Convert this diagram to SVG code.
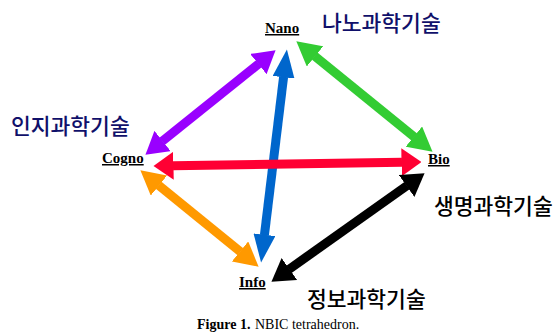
<svg xmlns="http://www.w3.org/2000/svg" width="554" height="334" viewBox="0 0 554 334">
  <style>
    .node { font-family: "Liberation Serif", "Times New Roman", serif; font-size: 15px; font-weight: bold; fill: #000; text-decoration: underline; }
    .kr { font-family: "Noto Sans CJK KR", "Noto Sans", sans-serif; font-size: 21.5px; font-weight: 500; }
    .navy { fill: #10106a; }
    .blk { fill: #000; }
    .cap { font-family: "Liberation Serif", "Times New Roman", serif; font-size: 14px; fill: #000; }
    .shaft { fill: none; stroke-width: 9; stroke-linecap: butt; }
  </style>
  <defs>
    <marker id="hPurple" markerUnits="userSpaceOnUse" viewBox="0 0 22 26" markerWidth="22" markerHeight="26" refX="0.5" refY="13" orient="auto-start-reverse"><path d="M0,0 L22,13 L0,26 z" fill="#9900ff"/></marker>
    <marker id="hBlue" markerUnits="userSpaceOnUse" viewBox="0 0 28 22" markerWidth="28" markerHeight="22" refX="0.5" refY="11" orient="auto-start-reverse"><path d="M0,0 L28,11 L0,22 z" fill="#0066cc"/></marker>
    <marker id="hGreen" markerUnits="userSpaceOnUse" viewBox="0 0 24 26" markerWidth="24" markerHeight="26" refX="0.5" refY="13" orient="auto-start-reverse"><path d="M0,0 L24,13 L0,26 z" fill="#33cc33"/></marker>
    <marker id="hRed" markerUnits="userSpaceOnUse" viewBox="0 0 20 28" markerWidth="20" markerHeight="28" refX="0.5" refY="14" orient="auto-start-reverse"><path d="M0,0 L20,14 L0,28 z" fill="#ff0033"/></marker>
    <marker id="hOrange" markerUnits="userSpaceOnUse" viewBox="0 0 24 26" markerWidth="24" markerHeight="26" refX="0.5" refY="13" orient="auto-start-reverse"><path d="M0,0 L24,13 L0,26 z" fill="#ff9900"/></marker>
    <marker id="hBlack" markerUnits="userSpaceOnUse" viewBox="0 0 22 27" markerWidth="22" markerHeight="27" refX="0.5" refY="13.5" orient="auto-start-reverse"><path d="M0,0 L22,13.5 L0,27 z" fill="#000000"/></marker>
  </defs>
  <rect width="554" height="334" fill="#ffffff"/>

  <g id="connectors">
    <line class="shaft" x1="162.2" y1="141.3" x2="258.8" y2="63.8" stroke="#9900ff" marker-start="url(#hPurple)" marker-end="url(#hPurple)"/>
    <line class="shaft" x1="283.6" y1="76.8" x2="264.4" y2="235.2" stroke="#0066cc" stroke-width="8" marker-start="url(#hBlue)" marker-end="url(#hBlue)"/>
    <line class="shaft" x1="314.6" y1="56.1" x2="414.3" y2="136.9" stroke="#33cc33" marker-start="url(#hGreen)" marker-end="url(#hGreen)"/>
    <line class="shaft" x1="173" y1="165.7" x2="402" y2="162.3" stroke="#ff0033" stroke-width="10" marker-start="url(#hRed)" marker-end="url(#hRed)"/>
    <line class="shaft" x1="158.6" y1="185.2" x2="240.4" y2="251.8" stroke="#ff9900" marker-start="url(#hOrange)" marker-end="url(#hOrange)"/>
    <line class="shaft" x1="407.0" y1="185.7" x2="289.0" y2="269.3" stroke="#000000" marker-start="url(#hBlack)" marker-end="url(#hBlack)"/>
  </g>

  <g id="nano">
    <text class="node" x="265" y="33">Nano</text>
    <text class="kr navy" x="322" y="31">나노과학기술</text>
  </g>
  <g id="cogno">
    <text class="node" x="102" y="163">Cogno</text>
    <text class="kr navy" x="11" y="134">인지과학기술</text>
  </g>
  <g id="bio">
    <text class="node" x="428" y="164">Bio</text>
    <text class="kr blk" x="434" y="214">생명과학기술</text>
  </g>
  <g id="info">
    <text class="node" x="239" y="287">Info</text>
    <text class="kr blk" x="307" y="307">정보과학기술</text>
  </g>

  <g id="caption">
    <text class="cap" y="329"><tspan x="197" font-weight="bold">Figure 1.</tspan><tspan x="255">NBIC tetrahedron.</tspan></text>
  </g>
</svg>
